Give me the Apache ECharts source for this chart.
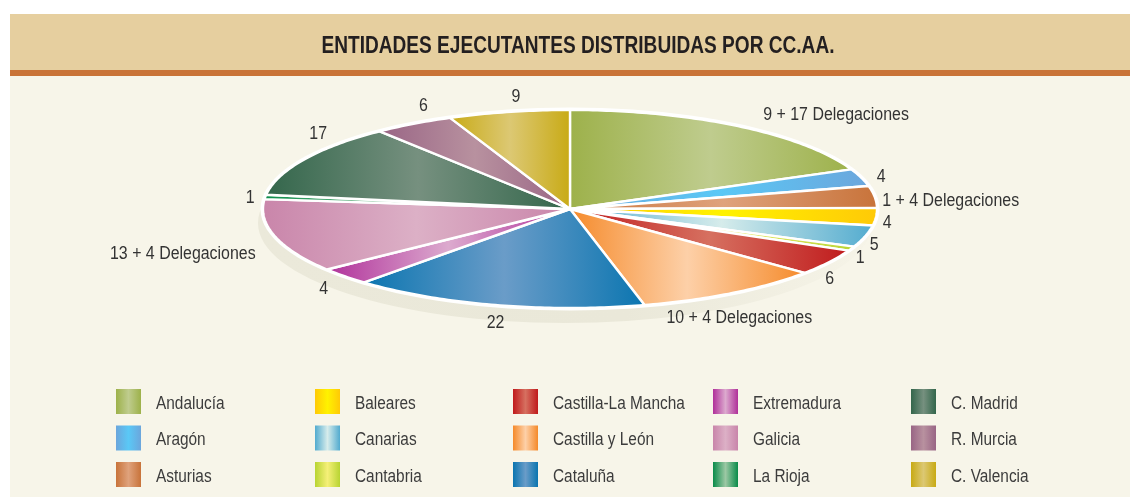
<!DOCTYPE html>
<html>
<head>
<meta charset="utf-8">
<style>
  html, body { margin: 0; padding: 0; background: #fff; overflow: hidden; }
  #chart { width: 100vw; height: 497px; }
</style>
<script src="https://cdn.jsdelivr.net/npm/echarts@6/dist/echarts.min.js"></script>
</head>
<body>
<div id="chart"></div>
<script>
const titleText = 'ENTIDADES EJECUTANTES DISTRIBUIDAS POR CC.AA.'
const regions = ['Andalucía', 'Aragón', 'Asturias', 'Baleares', 'Canarias', 'Cantabria', 'Castilla-La Mancha', 'Castilla y León', 'Cataluña', 'Extremadura', 'Galicia', 'La Rioja', 'C. Madrid', 'R. Murcia', 'C. Valencia']
const entidades = [26, 4, 5, 4, 5, 1, 6, 14, 22, 4, 17, 1, 17, 6, 9]
const sliceLabels = ['9 + 17 Delegaciones', '4', '1 + 4 Delegaciones', '4', '5', '1', '6', '10 + 4 Delegaciones', '22', '4', '13 + 4 Delegaciones', '1', '17', '6', '9']
const edgeColors = ['#9db14a', '#6ca6dc', '#c8733a', '#ffc907', '#52abcf', '#b8d432', '#c01a1c', '#f58a2a', '#0a75b0', '#b0309a', '#c985aa', '#0a8c4a', '#33664b', '#996585', '#c8aa14']
const midColors = ['#bfcc8e', '#5ac8f6', '#dfa27c', '#fff200', '#d6eceb', '#f5f078', '#d67060', '#fdd0a8', '#6a9cc8', '#dcaace', '#dcb0c6', '#9cc8a4', '#76907f', '#b8919f', '#dcc873']

// label nudges from the mid point of each slice's rim
const labelOffsets = [[98, -11], [20, 0], [76, 4], [11, 6], [9, 9], [9, 10], [1, 17], [7, 25], [0, 18], [-21, 13], [-92, 18], [-15, 1], [14, -25], [10, -18], [7, -15]]

// no narrow font installed, so the text gets squeezed horizontally
const LABEL_NARROW = 0.91
const LEGEND_NARROW = 0.88
const CX = 570
const CY = 209
const RX = 307
const RY = 99
const FONT = '"Liberation Sans", sans-serif'

const total = entidades.reduce((a, b) => a + b, 0)
const startValues = entidades.map((_, i) => entidades.slice(0, i).reduce((a, b) => a + b, 0))

const rimPoint = (v) => {
  const a = (v / total) * Math.PI * 2
  return [CX + RX * Math.sin(a), CY - RY * Math.cos(a)]
}

const sliceGradient = (i) => new echarts.graphic.LinearGradient(0, 0, 1, 0, [
  { offset: 0, color: edgeColors[i] },
  { offset: 0.5, color: midColors[i] },
  { offset: 1, color: edgeColors[i] },
])

const renderSlice = (i) => (params, api) => {
  const start = startValues[i]
  const value = api.value(0)
  const steps = Math.max(4, Math.ceil(value * 3))
  const points = [[CX, CY]]
  for (let s = 0; s <= steps; s++) points.push(rimPoint(start + (value * s) / steps))
  const mid = rimPoint(start + value / 2)
  return {
    type: 'group',
    children: [
      {
        type: 'polygon',
        shape: { points },
        style: { fill: sliceGradient(i), stroke: '#fff', lineWidth: 2.4, lineJoin: 'round' },
      },
      {
        type: 'text',
        x: mid[0] + labelOffsets[i][0],
        y: mid[1] + labelOffsets[i][1],
        scaleX: LABEL_NARROW,
        style: {
          text: sliceLabels[i],
          fill: '#333',
          font: '17.5px ' + FONT,
          align: 'center',
          verticalAlign: 'middle',
        },
      },
    ],
  }
}

const legendLefts = [116, 315, 513, 713, 911]
const legendTops = [389, 425.5, 462]

const legendEntries = regions.flatMap((name, i) => {
  const col = Math.floor(i / 3)
  const row = i % 3
  return [
    {
      type: 'rect',
      silent: true,
      shape: { x: legendLefts[col], y: legendTops[row], width: 25, height: 25 },
      style: { fill: sliceGradient(i) },
    },
    {
      type: 'text',
      silent: true,
      x: legendLefts[col] + 40,
      y: legendTops[row] + 15,
      scaleX: LEGEND_NARROW,
      style: { text: name, fill: '#3c3c3c', font: '17.5px ' + FONT, align: 'left', verticalAlign: 'middle' },
    },
  ]
})

const chart = echarts.init(document.getElementById('chart'), null, { renderer: 'canvas' })
chart.setOption({
  animation: false,
  backgroundColor: '#fff',
  graphic: [
    { type: 'rect', shape: { x: 10, y: 14, width: 1400, height: 56 }, style: { fill: '#e6cf9f' }, silent: true },
    { type: 'rect', shape: { x: 10, y: 70, width: 1400, height: 6 }, style: { fill: '#c97337' }, silent: true },
    { type: 'rect', shape: { x: 10, y: 76, width: 1400, height: 421 }, style: { fill: '#f7f5e9' }, silent: true },
    {
      type: 'text',
      silent: true,
      x: 578,
      y: 47,
      scaleX: 0.83,
      style: { text: titleText, fill: '#231f20', font: 'bold 23px ' + FONT, align: 'center', verticalAlign: 'middle' },
    },
    {
      type: 'ellipse',
      shape: { cx: 565, cy: 223, rx: 307, ry: 100 },
      style: {
        fill: new echarts.graphic.LinearGradient(0, 0, 1, 0, [
          { offset: 0, color: '#ebe9da' },
          { offset: 0.6, color: '#eae8d9' },
          { offset: 1, color: '#f6f4e8' },
        ]),
      },
      silent: true,
    },
    { type: 'ellipse', shape: { cx: CX, cy: CY, rx: RX + 2.5, ry: RY + 2.5 }, style: { fill: '#fff' }, silent: true },
    ...legendEntries,
  ],
  series: regions.map((name, i) => ({
    name,
    type: 'custom',
    coordinateSystem: 'none',
    silent: true,
    renderItem: renderSlice(i),
    data: [[entidades[i]]],
  })),
})
</script>
</body>
</html>
